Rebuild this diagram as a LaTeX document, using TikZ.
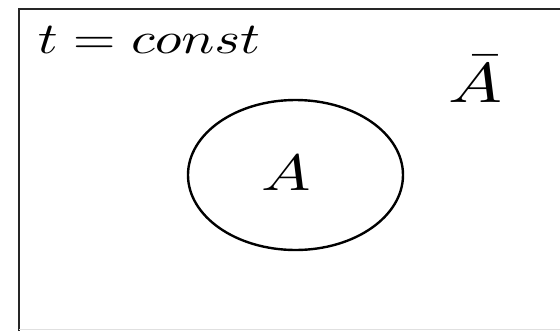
\documentclass[tikz,border=0pt]{standalone}
\usetikzlibrary{shapes.geometric}
\begin{document}
\begin{tikzpicture}[x=1pt,y=-1pt,
  lbl/.style={inner sep=0pt, anchor=base},
  frame/.style={line width=2pt, black!85},
  setline/.style={line width=2.4pt, black}]
\useasboundingbox (0,0) rectangle (560,330);
\fill[white] (0,0) rectangle (560,330);
\coordinate (tl) at (19,9);
\coordinate (tr) at (562,9);
\coordinate (bl) at (19,332);
\coordinate (br) at (562,329);
\coordinate (bl2) at (19,329);
\draw[frame] (tr) -- (tl) -- (bl);
\draw[line width=1pt, black!12] (bl2) -- (br);
\node[setline, draw, ellipse, minimum width=215, minimum height=150, inner sep=0pt] (setA) at (295.5,175) {};
\node[lbl] (lA) at (286,190) {\scalebox{6.6}[5.1]{$A$}};
\node[lbl] (lAbar) at (475,102) {\scalebox{7.2}[5.6]{$\bar{A}$}};
\node[lbl] (lt) at (149,53) {\scalebox{5.5}[4.4]{$t = const$}};
\end{tikzpicture}
\end{document}
